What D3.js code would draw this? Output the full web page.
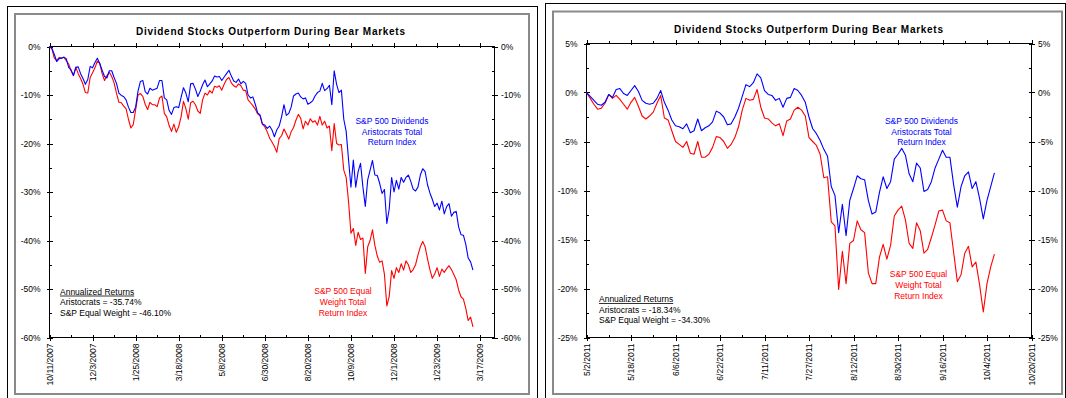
<!DOCTYPE html>
<html><head><meta charset="utf-8">
<script src="https://cdn.jsdelivr.net/npm/d3@7"></script>
<style>
body{margin:0;background:#fff}
svg{display:block}
text{font-family:"Liberation Sans",Arial,sans-serif}
</style>
</head><body>
<svg id="c" width="1066" height="398"></svg>
<script>
// ---------------- DATA ----------------
const chartTitle = "Dividend Stocks Outperform During Bear Markets";

// Left chart: Oct 2007 - Mar 2009, one value every 2 trading days (% total return)
const leftDates = ["10/11/2007","12/3/2007","1/25/2008","3/18/2008","5/8/2008","6/30/2008","8/20/2008","10/9/2008","12/1/2008","1/23/2009","3/17/2009"];
const leftStepDays = 2;
const leftAristocrats = [0,-0.4,-1.6,-3.1,-2.5,-2.4,-2.2,-2.5,-4.3,-4.8,-6.0,-4.3,-4.2,-5.6,-6.6,-7.8,-6.8,-4.1,-4.4,-3.3,
-2.4,-3.5,-4.9,-6.2,-6.5,-5.0,-5.0,-6.4,-7.6,-9.6,-10.1,-10.3,-11.0,-12.5,-13.6,-13.6,-12.5,-9.2,-7.2,-7.0,
-9.3,-9.8,-8.6,-9.0,-8.8,-8.6,-7.0,-7.0,-10.6,-11.0,-13.2,-14.0,-12.6,-12.4,-12.6,-10.5,-8.5,-9.6,-11.4,-7.7,
-7.6,-8.8,-10.3,-9.2,-7.9,-6.9,-8.3,-7.7,-7.1,-6.1,-6.3,-6.2,-7.0,-6.3,-5.6,-4.9,-6.1,-7.1,-7.4,-6.7,
-7.7,-7.2,-7.6,-10.0,-10.6,-10.4,-11.9,-13.7,-14.1,-16.0,-16.2,-16.9,-16.4,-17.2,-18.6,-17.2,-16.4,-14.5,-12.0,-14.2,
-13.8,-12.5,-10.2,-9.8,-9.6,-10.4,-10.8,-10.6,-11.9,-11.6,-11.2,-10.2,-9.5,-9.2,-7.6,-9.1,-8.7,-8.0,-12.0,-5.0,
-7.8,-9.5,-9.0,-15.0,-17.5,-23.4,-29.0,-23.4,-29.0,-25.8,-24.1,-29.0,-33.0,-27.5,-25.5,-23.5,-26.5,-26.6,-28.2,-30.3,
-29.5,-36.5,-33.5,-27.0,-30.0,-27.6,-29.4,-27.0,-28.0,-27.0,-26.5,-27.8,-29.4,-29.8,-29.0,-26.5,-25.2,-25.8,-28.5,-30.2,
-31.5,-33.0,-32.3,-33.7,-31.9,-34.5,-33.0,-32.4,-35.0,-34.2,-34.0,-37.2,-38.8,-38.9,-40.8,-43.6,-44.4,-46.1];
const leftEqualWeight = [0,-0.5,-2.4,-2.9,-2.3,-2.4,-2.2,-2.9,-3.6,-5.0,-6.0,-4.3,-5.6,-6.6,-7.8,-9.5,-9.6,-6.4,-5.4,-4.4,
-3.0,-3.5,-5.6,-7.0,-6.0,-5.3,-6.2,-7.5,-9.6,-11.5,-11.6,-12.3,-12.8,-15.0,-16.8,-16.1,-13.0,-10.0,-9.7,-10.3,
-11.9,-13.0,-11.5,-12.0,-12.0,-12.4,-10.6,-10.2,-13.8,-14.5,-16.3,-17.5,-16.0,-17.7,-16.5,-14.5,-11.3,-12.8,-15.0,-11.6,
-11.3,-12.0,-13.3,-13.8,-11.0,-9.6,-10.0,-9.1,-9.6,-8.2,-8.4,-8.1,-9.0,-7.8,-6.8,-6.4,-7.5,-8.1,-8.4,-7.7,
-8.1,-9.0,-9.1,-11.0,-11.6,-12.2,-12.9,-13.9,-14.3,-16.0,-16.6,-17.6,-18.9,-19.7,-20.6,-21.8,-19.0,-18.4,-17.0,-18.0,
-19.1,-17.6,-16.7,-15.2,-14.0,-14.8,-17.0,-15.4,-16.2,-14.9,-15.6,-15.3,-16.2,-14.4,-16.2,-15.4,-16.8,-16.4,-21.5,-15.9,
-20.0,-20.3,-20.2,-25.5,-27.0,-32.0,-38.5,-37.5,-41.0,-38.3,-39.8,-39.5,-46.8,-41.3,-40.0,-37.8,-41.0,-43.2,-44.5,-44.2,
-47.0,-53.5,-51.5,-46.2,-47.8,-45.6,-46.6,-44.8,-46.1,-44.2,-45.0,-46.6,-46.0,-45.0,-43.0,-41.3,-40.2,-41.3,-43.8,-46.0,
-47.8,-46.9,-45.6,-47.4,-45.9,-46.6,-45.8,-45.2,-46.0,-47.0,-48.1,-50.2,-51.6,-52.1,-54.0,-56.5,-55.8,-57.8];
const leftYTicks = [0,-10,-20,-30,-40,-50,-60];
const leftAnnual = ["Annualized Returns","Aristocrats = -35.74%","S&P Equal Weight = -46.10%"];

// Right chart: May 2011 - Oct 2011, one value per trading day (% total return)
const rightDates = ["5/2/2011","5/18/2011","6/6/2011","6/22/2011","7/11/2011","7/27/2011","8/12/2011","8/30/2011","9/16/2011","10/4/2011","10/20/2011"];
const rightStepDays = 1;
const rightAristocrats = [0.0,-0.4,-0.8,-1.2,-1.3,-1.0,-0.2,-0.5,0.3,0.4,
-0.1,-0.3,0.2,0.7,0.1,-0.8,-1.1,-1.2,-1.1,-0.6,
0.2,-1.0,-1.8,-2.8,-3.4,-3.5,-3.7,-3.2,-4.1,-3.9,
-2.7,-3.9,-3.6,-3.4,-3.0,-1.9,-2.1,-2.5,-3.3,-3.2,
-2.5,-1.6,-0.4,0.8,0.6,1.0,1.9,1.5,0.2,-0.2,
-0.3,-0.8,-0.6,-1.5,-0.6,-0.5,0.4,0.2,-0.3,-1.0,
-2.5,-3.7,-4.2,-4.9,-5.8,-6.5,-9.6,-10.5,-14.3,-11.4,
-14.6,-11.0,-9.8,-8.5,-8.8,-8.9,-11.0,-12.4,-12.2,-10.2,
-8.6,-9.8,-9.1,-6.8,-6.3,-5.7,-6.4,-8.3,-9.1,-7.2,
-7.7,-10.1,-9.9,-9.1,-7.7,-6.8,-5.9,-6.6,-6.6,-9.4,
-11.7,-9.6,-8.5,-8.1,-9.8,-9.1,-10.8,-12.9,-11.0,-9.6,-8.2];
const rightEqualWeight = [0.0,-0.6,-1.2,-1.7,-1.6,-1.1,-0.2,-0.6,-0.3,-0.7,
-1.2,-1.7,-1.0,-0.5,-1.4,-2.4,-2.7,-2.4,-2.0,-1.1,
-0.3,-2.6,-2.8,-3.9,-5.0,-5.3,-5.6,-5.0,-6.2,-6.3,
-5.0,-6.6,-6.6,-6.3,-5.6,-4.5,-4.6,-5.0,-5.7,-5.3,
-4.6,-3.5,-1.8,-0.6,-0.8,-0.7,0.3,-1.5,-2.6,-2.7,
-3.1,-3.4,-3.2,-4.4,-2.9,-2.7,-1.8,-1.5,-1.8,-2.4,
-4.6,-5.0,-5.4,-6.3,-8.7,-8.6,-13.2,-13.6,-20.1,-16.2,
-19.5,-15.4,-15.1,-13.1,-14.0,-14.3,-18.4,-19.5,-19.5,-16.8,
-15.5,-17.0,-15.6,-12.6,-12.0,-11.6,-13.0,-15.4,-15.9,-13.3,
-14.1,-16.4,-16.0,-14.8,-13.5,-12.1,-12.0,-13.1,-13.3,-16.3,
-19.3,-18.6,-16.4,-15.7,-17.8,-17.3,-19.6,-22.4,-19.5,-17.8,-16.5];
const rightYTicks = [5,0,-5,-10,-15,-20,-25];
const rightAnnual = ["Annualized Returns","Aristocrats = -18.34%","S&P Equal Weight = -34.30%"];

const aristocratsLabel = ["S&P 500 Dividends","Aristocrats Total","Return Index"];
const equalWeightLabel = ["S&P 500 Equal","Weight Total","Return Index"];

// ---------------- LAYOUT ----------------
const layouts = [
  { outer:[7.5,6.5,537.5,402], gray:[15,14,529,394], plot:[49.5,494.5,46.5,337.5],
    daysPerLabel:36, xMax:372, yDomain:[-60,0], minorY:5,
    title:[270.5,35], blueNote:[392,124,10.7], redNote:[343,294,10.8], annual:[60,294.5,10.7] },
  { outer:[545.5,3.5,1065.5,402], gray:[553,11.5,1062,394], plot:[586.5,1031.5,43.5,337.5],
    daysPerLabel:12, xMax:120, yDomain:[-25,5], minorY:2.5,
    title:[808.5,32.5], blueNote:[921.5,124,10.6], redNote:[918.5,276.5,11.2], annual:[599,302,10.7] }
];
const panels = [
  { dates:leftDates, step:leftStepDays, blue:leftAristocrats, red:leftEqualWeight, yTicks:leftYTicks, annual:leftAnnual },
  { dates:rightDates, step:rightStepDays, blue:rightAristocrats, red:rightEqualWeight, yTicks:rightYTicks, annual:rightAnnual }
];

const svg = d3.select("#c");
svg.append("rect").attr("width",1066).attr("height",398).attr("fill","#fff");

function drawPanel(p, L) {
  const g = svg.append("g");
  g.append("rect").attr("x",L.outer[0]).attr("y",L.outer[1])
    .attr("width",L.outer[2]-L.outer[0]).attr("height",L.outer[3]-L.outer[1])
    .attr("fill","none").attr("stroke","#000").attr("stroke-width",1);
  g.append("rect").attr("x",L.gray[0]).attr("y",L.gray[1])
    .attr("width",L.gray[2]-L.gray[0]).attr("height",L.gray[3]-L.gray[1])
    .attr("fill","none").attr("stroke","#8a8a8a").attr("stroke-width",2);

  const [px0,px1,py0,py1] = L.plot;
  const x = d3.scaleLinear().domain([0,L.xMax]).range([px0,px1]);
  const y = d3.scaleLinear().domain(L.yDomain).range([py1,py0]);

  // title
  g.append("text").attr("x",L.title[0]).attr("y",L.title[1]).attr("text-anchor","middle")
    .attr("font-size",10).attr("font-weight","bold").attr("textLength",269).attr("lengthAdjust","spacing")
    .attr("fill","#000").text(chartTitle);

  const ax = g.append("g").attr("stroke","#000").attr("stroke-width",1).attr("shape-rendering","crispEdges");
  // plot box
  ax.append("rect").attr("x",px0).attr("y",py0).attr("width",px1-px0).attr("height",py1-py0).attr("fill","none");

  // y ticks
  const majorY = p.yTicks;
  const minorY = majorY.slice(0,-1).map(v => v - L.minorY);
  majorY.forEach(v => {
    const yy = Math.round(y(v)) + 0.5;
    ax.append("line").attr("x1",px0-3).attr("x2",px0+3).attr("y1",yy).attr("y2",yy);
    ax.append("line").attr("x1",px1-3).attr("x2",px1+3).attr("y1",yy).attr("y2",yy);
  });
  minorY.forEach(v => {
    const yy = Math.round(y(v)) + 0.5;
    ax.append("line").attr("x1",px0).attr("x2",px0+2.5).attr("y1",yy).attr("y2",yy);
    ax.append("line").attr("x1",px1-2.5).attr("x2",px1).attr("y1",yy).attr("y2",yy);
  });
  // x ticks (trading-day categories)
  p.dates.forEach((d,i) => {
    const xx = Math.round(x(i*L.daysPerLabel)) + 0.5;
    ax.append("line").attr("x1",xx).attr("x2",xx).attr("y1",py1-3).attr("y2",py1+3);
    ax.append("line").attr("x1",xx).attr("x2",xx).attr("y1",py0-4).attr("y2",py0+1);
    const mid = (i+0.5)*L.daysPerLabel;
    if (mid <= L.xMax) {
      const xm = Math.round(x(mid)) + 0.5;
      ax.append("line").attr("x1",xm).attr("x2",xm).attr("y1",py1-2.5).attr("y2",py1);
      ax.append("line").attr("x1",xm).attr("x2",xm).attr("y1",py0-2.5).attr("y2",py0);
    }
  });

  // y labels
  const tl = g.append("g").attr("font-size",8.5).attr("fill","#000");
  majorY.forEach(v => {
    tl.append("text").attr("x",px0-9).attr("y",y(v)+3).attr("text-anchor","end").text(v+"%");
    tl.append("text").attr("x",px1+6.5).attr("y",y(v)+3).attr("text-anchor","start").text(v+"%");
  });
  // date labels
  p.dates.forEach((d,i) => {
    tl.append("text").attr("transform",`translate(${x(i*L.daysPerLabel)+3.2},${py1+6}) rotate(-90)`)
      .attr("text-anchor","end").text(d);
  });

  // series
  const line = d3.line().x((d,i) => x(i*p.step)).y(d => y(d));
  g.append("path").datum(p.red).attr("d",line).attr("fill","none").attr("stroke","#ff0000").attr("stroke-width",1.1).attr("stroke-linejoin","round");
  g.append("path").datum(p.blue).attr("d",line).attr("fill","none").attr("stroke","#0000ff").attr("stroke-width",1.1).attr("stroke-linejoin","round");

  // notes
  aristocratsLabel.forEach((t,i) => {
    g.append("text").attr("x",L.blueNote[0]).attr("y",L.blueNote[1]+i*L.blueNote[2]).attr("text-anchor","middle")
      .attr("font-size",8.5).attr("fill","#0000ff").text(t);
  });
  equalWeightLabel.forEach((t,i) => {
    g.append("text").attr("x",L.redNote[0]).attr("y",L.redNote[1]+i*L.redNote[2]).attr("text-anchor","middle")
      .attr("font-size",8.5).attr("fill","#ff0000").text(t);
  });
  p.annual.forEach((t,i) => {
    const tx = g.append("text").attr("x",L.annual[0]).attr("y",L.annual[1]+i*L.annual[2])
      .attr("font-size",8.5).attr("fill","#000").text(t);
    if (i === 0) {
      const w = tx.node().getComputedTextLength();
      g.append("line").attr("x1",L.annual[0]).attr("x2",L.annual[0]+w)
        .attr("y1",L.annual[1]+1.5).attr("y2",L.annual[1]+1.5).attr("stroke","#000").attr("stroke-width",0.8);
    }
  });
}
panels.forEach((p,i) => drawPanel(p, layouts[i]));
</script>
</body></html>
